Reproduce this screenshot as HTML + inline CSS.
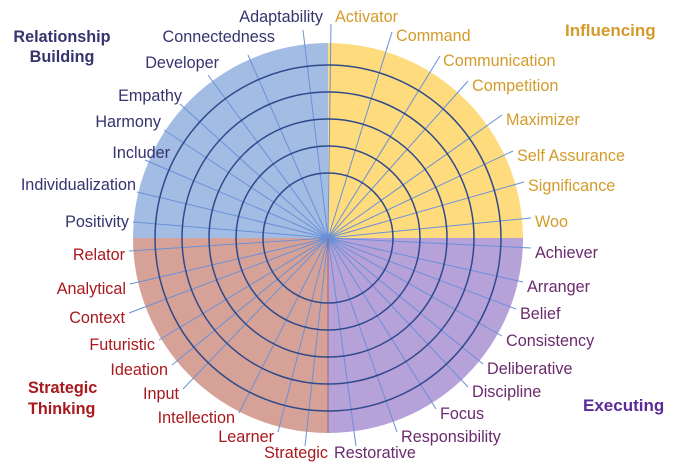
<!DOCTYPE html>
<html><head><meta charset="utf-8"><style>
body{margin:0;background:#fff}
svg{display:block}
text{font-family:"Liberation Sans",sans-serif;font-size:16.2px}
.i{fill:#d39b2a}.r{fill:#36336e}.s{fill:#a8181c}.e{fill:#6b2a6e}
.h{font-weight:bold;font-size:17px}
</style></head><body>
<svg width="690" height="471" viewBox="0 0 690 471" xmlns="http://www.w3.org/2000/svg">
<g transform="translate(328,238)">
<path d="M0 0 L0 -195 A195 195 0 0 1 195 0 Z" fill="#fedc7d"/>
<path d="M0 0 L195 0 A195 195 0 0 1 0 195 Z" fill="#b6a1d8"/>
<path d="M0 0 L0 195 A195 195 0 0 1 -195 0 Z" fill="#d6a297"/>
<path d="M0 0 L-195 0 A195 195 0 0 1 0 -195 Z" fill="#a3bce3"/>
</g>
<g stroke="#6a90d8" stroke-width="1">
<line x1="328" y1="238" x2="331" y2="24"/>
<line x1="328" y1="238" x2="392" y2="32"/>
<line x1="328" y1="238" x2="440" y2="56"/>
<line x1="328" y1="238" x2="468" y2="81"/>
<line x1="328" y1="238" x2="502" y2="115"/>
<line x1="328" y1="238" x2="513" y2="151"/>
<line x1="328" y1="238" x2="524" y2="182"/>
<line x1="328" y1="238" x2="531" y2="218"/>
<line x1="328" y1="238" x2="303" y2="30"/>
<line x1="328" y1="238" x2="248" y2="55"/>
<line x1="328" y1="238" x2="208" y2="75"/>
<line x1="328" y1="238" x2="180" y2="104"/>
<line x1="328" y1="238" x2="164" y2="130"/>
<line x1="328" y1="238" x2="145" y2="160"/>
<line x1="328" y1="238" x2="137" y2="192"/>
<line x1="328" y1="238" x2="133" y2="222"/>
<line x1="328" y1="238" x2="129" y2="251"/>
<line x1="328" y1="238" x2="130" y2="284"/>
<line x1="328" y1="238" x2="129" y2="313"/>
<line x1="328" y1="238" x2="159" y2="340"/>
<line x1="328" y1="238" x2="172" y2="365"/>
<line x1="328" y1="238" x2="183" y2="389"/>
<line x1="328" y1="238" x2="239" y2="413"/>
<line x1="328" y1="238" x2="278" y2="432"/>
<line x1="328" y1="238" x2="305" y2="446"/>
<line x1="328" y1="238" x2="356" y2="446"/>
<line x1="328" y1="238" x2="397" y2="432"/>
<line x1="328" y1="238" x2="436" y2="409"/>
<line x1="328" y1="238" x2="468" y2="387"/>
<line x1="328" y1="238" x2="483" y2="364"/>
<line x1="328" y1="238" x2="502" y2="336"/>
<line x1="328" y1="238" x2="516" y2="309"/>
<line x1="328" y1="238" x2="523" y2="282"/>
<line x1="328" y1="238" x2="531" y2="248"/>
</g>
<line x1="328" y1="238" x2="328" y2="433" stroke="#a0607a" stroke-width="1"/>
<g fill="none" stroke="#2f4a8c" stroke-width="1.5">
<circle cx="328" cy="238" r="65"/>
<circle cx="328" cy="238" r="92"/>
<circle cx="328" cy="238" r="119"/>
<circle cx="328" cy="238" r="146"/>
<circle cx="328" cy="238" r="173"/>
</g>
<g class="i">
<text x="335" y="22">Activator</text>
<text x="396" y="41">Command</text>
<text x="443" y="66">Communication</text>
<text x="472" y="91">Competition</text>
<text x="506" y="125">Maximizer</text>
<text x="517" y="161">Self Assurance</text>
<text x="528" y="191">Significance</text>
<text x="535" y="227">Woo</text>
<text class="h" x="565" y="36">Influencing</text>
</g>
<g class="r" text-anchor="end">
<text x="323" y="22">Adaptability</text>
<text x="275" y="42">Connectedness</text>
<text x="219" y="68">Developer</text>
<text x="182" y="101">Empathy</text>
<text x="161" y="127">Harmony</text>
<text x="170" y="158">Includer</text>
<text x="136" y="190">Individualization</text>
<text x="129" y="227">Positivity</text>
</g>
<g class="r h" text-anchor="middle"><text x="62" y="42">Relationship</text><text x="62" y="62">Building</text></g>
<g class="s" text-anchor="end">
<text x="125" y="260">Relator</text>
<text x="126" y="294">Analytical</text>
<text x="125" y="323">Context</text>
<text x="155" y="350">Futuristic</text>
<text x="168" y="375">Ideation</text>
<text x="179" y="399">Input</text>
<text x="235" y="423">Intellection</text>
<text x="274" y="442">Learner</text>
<text x="328" y="458">Strategic</text>
</g>
<g class="s h"><text x="28" y="393">Strategic</text><text x="28" y="414">Thinking</text></g>
<g class="e">
<text x="334" y="458">Restorative</text>
<text x="401" y="442">Responsibility</text>
<text x="440" y="419">Focus</text>
<text x="472" y="397">Discipline</text>
<text x="487" y="374">Deliberative</text>
<text x="506" y="346">Consistency</text>
<text x="520" y="319">Belief</text>
<text x="527" y="292">Arranger</text>
<text x="535" y="258">Achiever</text>
</g>
<text class="h" x="583" y="411" fill="#5b2b98">Executing</text>
</svg>
</body></html>
